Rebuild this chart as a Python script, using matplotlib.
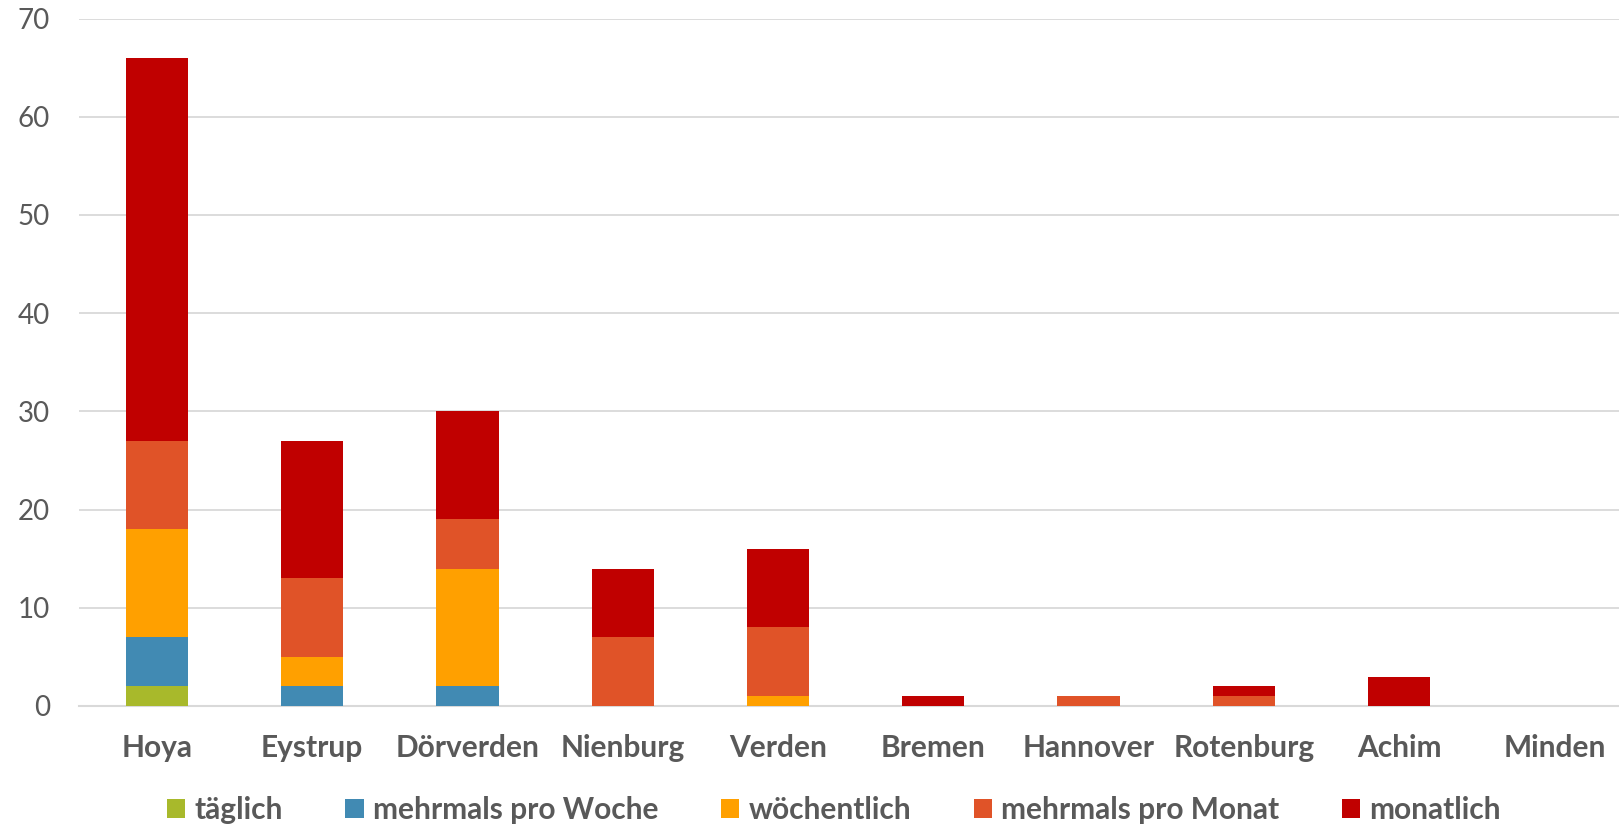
import matplotlib.pyplot as plt
import numpy as np

plt.rcParams['font.family'] = ['Lato', 'DejaVu Sans']

# categories and stacked series
orte = ["Hoya", "Eystrup", "Dörverden", "Nienburg", "Verden",
        "Bremen", "Hannover", "Rotenburg", "Achim", "Minden"]
taeglich = [2, 0, 0, 0, 0, 0, 0, 0, 0, 0]
mehrmals_woche = [5, 2, 2, 0, 0, 0, 0, 0, 0, 0]
woechentlich = [11, 3, 12, 0, 1, 0, 0, 0, 0, 0]
mehrmals_monat = [9, 8, 5, 7, 7, 0, 1, 1, 0, 0]
monatlich = [39, 14, 11, 7, 8, 1, 0, 1, 3, 0]

series = [
    ("täglich", taeglich, "#A8B92B"),
    ("mehrmals pro Woche", mehrmals_woche, "#418AB3"),
    ("wöchentlich", woechentlich, "#FFA000"),
    ("mehrmals pro Monat", mehrmals_monat, "#E05328"),
    ("monatlich", monatlich, "#C00000"),
]

fig = plt.figure(figsize=(16.19, 8.26), dpi=100)
ax = fig.add_axes([0.049, 0.1453, 0.959, 0.8322])

x = np.arange(len(orte))
bottom = np.zeros(len(orte))
for name, vals, col in series:
    vals = np.array(vals, dtype=float)
    ax.bar(x, vals, 0.4, bottom=bottom, color=col, label=name, zorder=3)
    bottom += vals

ax.set_xlim(-0.5, len(orte) - 0.5)
ax.set_ylim(0, 70)
ax.set_yticks(range(0, 71, 10))
ax.grid(axis="y", color="#D9D9D9", linewidth=1.3, zorder=0)
for s in ["top", "right", "left"]:
    ax.spines[s].set_visible(False)
ax.spines["bottom"].set_color("#D9D9D9")
ax.spines["bottom"].set_linewidth(1.5)
ax.tick_params(length=0)
ax.tick_params(axis="y", labelsize=20, labelcolor="#595959", pad=21)
ax.set_xticks(x)
ax.set_xticklabels(orte, fontsize=21.5, fontweight="bold", color="#595959")
ax.tick_params(axis="x", pad=20)

leg = fig.legend(loc="center", bbox_to_anchor=(0.515, 0.019), ncol=5, frameon=False,
                 fontsize=21.5, handlelength=0.62, handleheight=0.62,
                 handletextpad=0.3, columnspacing=2.1)
for t in leg.get_texts():
    t.set_color("#595959")
    t.set_fontweight("bold")

fig.savefig("out.png", dpi=100)
